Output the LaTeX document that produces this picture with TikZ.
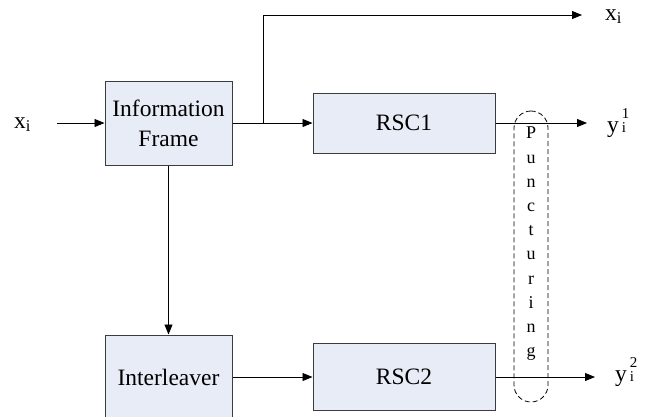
\documentclass[tikz,border=0pt]{standalone}
\usepackage{fontspec}
\setmainfont{Liberation Serif}
\usepackage{tikz}
\usetikzlibrary{arrows.meta}
\definecolor{boxfill}{RGB}{232,236,246}
\definecolor{boxline}{RGB}{60,60,60}
% stacked superscript / subscript after a symbol
\newcommand{\supsub}[2]{\kern3pt\makebox[0pt][l]{\raisebox{14pt}{\fontsize{15}{15}\selectfont #1}}{\fontsize{15}{15}\selectfont #2}}

\begin{document}
\begin{tikzpicture}[line join=miter,>={Triangle[length=10pt,width=8pt]},x=1pt,y=-1pt,
    blk/.style={draw=boxline,fill=boxfill,line width=1pt,inner sep=0pt,align=center,font=\fontsize{23.5}{30}\selectfont},
    sig/.style={inner sep=0pt,font=\fontsize{23.5}{26}\selectfont},
    wire/.style={line width=0.9pt}]
                \useasboundingbox (0,0) rectangle (647,416);
                % blocks
                \node[blk,minimum width=127pt,minimum height=84pt] (info) at (168.5,123) {Information\\Frame};
                \node[blk,minimum width=127pt,minimum height=84pt] (intl) at (168.5,377) {Interleaver};
                \node[blk,minimum width=182pt,minimum height=60pt] (rsc1) at (404,123) {RSC1};
                \node[blk,minimum width=182pt,minimum height=67pt] (rsc2) at (404,377) {RSC2};
                % puncturing unit
                \node[draw,line width=0.8pt,dash pattern=on 5pt off 3pt,rounded corners=17pt,minimum width=34pt,minimum height=291pt] (punct) at (531,256.5) {};
                \node[inner sep=0pt,anchor=north,align=center,font=\fontsize{18}{24.2}\selectfont] (punctxt) at (531,127) {P\\u\\n\\c\\t\\u\\r\\i\\n\\g};
                % signals
                \node[sig,anchor=base west] (xin) at (14,128) {x\textsubscript{i}};
                \node[sig,anchor=base west] (xout) at (605,20) {x\textsubscript{i}};
                \node[sig,anchor=base west] (yone) at (607,132) {y\supsub{1}{i}};
                \node[sig,anchor=base west] (ytwo) at (615,381) {y\supsub{2}{i}};
                \coordinate (xinend) at (57,123);
                \coordinate (tap) at (263,123);
                \coordinate (xoutend) at (582,15);
                \coordinate (yoneend) at (587,123);
                \coordinate (ytwoend) at (595,377);
                % connections
                \draw[wire,->] (xinend) -- (info);
                \draw[wire,->] (info) -- (rsc1);
                \draw[wire,->] (tap) |- (xoutend);
                \draw[wire,->] (info) -- (intl);
                \draw[wire,->] (intl) -- (rsc2);
                \draw[wire,->] (rsc1) -- (yoneend);
                \draw[wire,->] (rsc2) -- (ytwoend);
            \end{tikzpicture}
\end{document}
